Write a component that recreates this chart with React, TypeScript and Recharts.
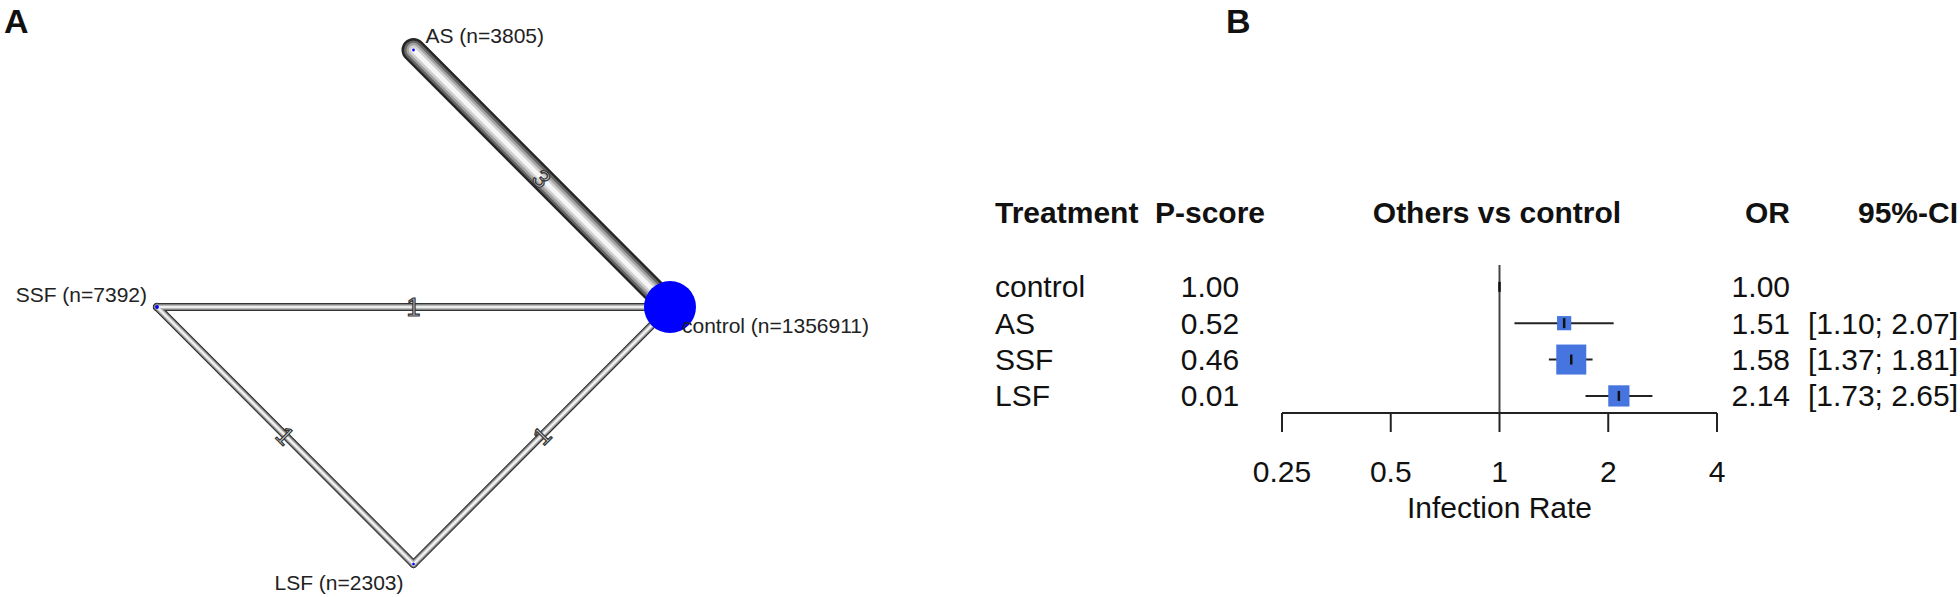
import React from "react";
import {
  ComposedChart,
  Line,
  Scatter,
  XAxis,
  YAxis,
  ZAxis,
  ErrorBar,
  ReferenceLine,
} from "recharts";

const FONT = '"Liberation Sans", Arial, Helvetica, sans-serif';

// network (circle layout)
const treatments = ["control", "AS", "SSF", "LSF"];
const sampleSizes = [1356911, 3805, 7392, 2303];
const layoutX = [1, 0, -1, 0];
const layoutY = [0, 1, 0, -1];
const edgeFrom = ["AS", "SSF", "SSF", "LSF"];
const edgeTo = ["control", "control", "LSF", "control"];
const edgeStudies = [3, 1, 1, 1];

// forest plot
const pScores = [1.0, 0.52, 0.46, 0.01];
const oddsRatios = [1.0, 1.51, 1.58, 2.14];
const ciLower = [null, 1.1, 1.37, 1.73];
const ciUpper = [null, 2.07, 1.81, 2.65];
const weights = [0, 13, 58, 29];
const xTicks = [0.25, 0.5, 1, 2, 4];
const rowTicks = [0, 1, 2, 3];

const nodes = treatments.map((name, i) => ({
  name,
  n: sampleSizes[i],
  x: layoutX[i],
  y: layoutY[i],
}));

const edges = edgeFrom.map((f, i) => {
  const a = nodes[treatments.indexOf(f)];
  const b = nodes[treatments.indexOf(edgeTo[i])];
  return { a, b, k: edgeStudies[i] };
});

const edgeLabels = edges.map((e) => ({
  x: (e.a.x + e.b.x) / 2,
  y: (e.a.y + e.b.y) / 2,
  k: e.k,
  angle: (Math.atan2(-(e.b.y - e.a.y), e.b.x - e.a.x) * 180) / Math.PI,
}));

const forestRows = treatments.map((name, i) => ({
  row: i,
  name,
  or: oddsRatios[i],
  w: weights[i],
  err:
    ciLower[i] == null
      ? [0, 0]
      : [oddsRatios[i] - (ciLower[i] as number), (ciUpper[i] as number) - oddsRatios[i]],
}));

// cylinder look for the edges: outer dark -> light centre
const SHADES = [
  { f: 1, c: "#252525" },
  { f: 0.8, c: "#666666" },
  { f: 0.6, c: "#a2a2a2" },
  { f: 0.4, c: "#d0d0d0" },
  { f: 0.2, c: "#f6f6f6" },
];

const LABEL_PLACE: Record<string, { dx: number; dy: number; anchor: string }> = {
  control: { dx: 12, dy: 19, anchor: "start" },
  AS: { dx: 12, dy: -14, anchor: "start" },
  SSF: { dx: -10, dy: -12, anchor: "end" },
  LSF: { dx: -10, dy: 19, anchor: "end" },
};

const NodeShape = (props: any) => {
  const { cx, cy, width, payload } = props;
  const r = Math.max((width || 0) / 2, 1.3);
  const p = LABEL_PLACE[payload.name];
  return (
    <g>
      <circle cx={cx} cy={cy} r={r} fill="#0000ff" />
      <text
        x={cx + p.dx}
        y={cy + p.dy}
        dy="0.35em"
        textAnchor={p.anchor}
        fontSize={21}
        fill="#222"
        fontFamily={FONT}
      >
        {`${payload.name} (n=${payload.n})`}
      </text>
    </g>
  );
};

const EdgeLabel = (props: any) => {
  const { cx, cy, payload } = props;
  return (
    <text
      x={cx}
      y={cy}
      dy="0.36em"
      textAnchor="middle"
      transform={`rotate(${payload.angle} ${cx} ${cy})`}
      fontSize={25}
      fontFamily={FONT}
      fill="#d8d8d8"
      stroke="#333"
      strokeWidth={1.2}
    >
      {payload.k}
    </text>
  );
};

const NetworkChart = () => (
  <ComposedChart
    width={980}
    height={597}
    margin={{ top: 50, right: 310, bottom: 33, left: 157 }}
  >
    <XAxis type="number" dataKey="x" domain={[-1, 1]} hide />
    <YAxis type="number" dataKey="y" domain={[-1, 1]} hide />
    <ZAxis dataKey="n" domain={[0, 1356911]} range={[0, 2124]} />
    {SHADES.map((s, j) =>
      edges.map((e, i) => (
        <Line
          key={`e${j}-${i}`}
          data={[e.a, e.b]}
          dataKey="y"
          type="linear"
          stroke={s.c}
          strokeWidth={8 * e.k * s.f}
          strokeLinecap="round"
          dot={false}
          activeDot={false}
          isAnimationActive={false}
        />
      ))
    )}
    <Scatter data={edgeLabels} shape={EdgeLabel} isAnimationActive={false} />
    <Scatter data={nodes} shape={NodeShape} isAnimationActive={false} />
  </ComposedChart>
);

// column positions, relative to the forest chart
const COL = { treat: 15, pscore: 230, forest: 517, or: 810, ci: 978 };

const RowTick = (props: any) => {
  const { y, payload, index } = props;
  const i = payload.value;
  const txt = { fontSize: 30, fill: "#111", fontFamily: FONT };
  const hy = y - 74;
  return (
    <g>
      {index === 0 && (
        <g fontWeight="bold">
          <text x={COL.treat} y={hy} dy="0.35em" {...txt}>Treatment</text>
          <text x={COL.pscore} y={hy} dy="0.35em" textAnchor="middle" {...txt}>P-score</text>
          <text x={COL.forest} y={hy} dy="0.35em" textAnchor="middle" {...txt}>Others vs control</text>
          <text x={COL.or} y={hy} dy="0.35em" textAnchor="end" {...txt}>OR</text>
          <text x={COL.ci} y={hy} dy="0.35em" textAnchor="end" {...txt}>95%-CI</text>
        </g>
      )}
      <text x={COL.treat} y={y} dy="0.35em" {...txt}>{treatments[i]}</text>
      <text x={COL.pscore} y={y} dy="0.35em" textAnchor="middle" {...txt}>
        {pScores[i].toFixed(2)}
      </text>
      <text x={COL.or} y={y} dy="0.35em" textAnchor="end" {...txt}>
        {oddsRatios[i].toFixed(2)}
      </text>
      {ciLower[i] != null && (
        <text x={COL.ci} y={y} dy="0.35em" textAnchor="end" {...txt}>
          {`[${(ciLower[i] as number).toFixed(2)}; ${(ciUpper[i] as number).toFixed(2)}]`}
        </text>
      )}
    </g>
  );
};

const SquareShape = (props: any) => {
  const { cx, cy, width } = props;
  const s = width || 0;
  if (s <= 0) return <g />;
  return <rect x={cx - s / 2} y={cy - s / 2} width={s} height={s} fill="#4775e0" />;
};

const EstimateTick = (props: any) => {
  const { cx, cy } = props;
  return <line x1={cx} x2={cx} y1={cy - 5} y2={cy + 5} stroke="#111" strokeWidth={2.5} />;
};

const ForestChart = () => (
  <ComposedChart
    width={980}
    height={597}
    margin={{ top: 265, right: 243, bottom: 84, left: 301 }}
  >
    <XAxis
      type="number"
      dataKey="or"
      scale="log"
      domain={[0.25, 4]}
      ticks={xTicks}
      interval={0}
      allowDataOverflow
      height={100}
      tickSize={19}
      tickMargin={29}
      axisLine={{ stroke: "#222", strokeWidth: 2 }}
      tickLine={{ stroke: "#222", strokeWidth: 2 }}
      tick={{ fontSize: 30, fill: "#111", fontFamily: FONT }}
      tickFormatter={(v: number) => String(v)}
      label={{
        value: "Infection Rate",
        position: "bottom",
        offset: -16,
        fontSize: 30,
        fill: "#111",
        fontFamily: FONT,
      }}
    />
    <YAxis
      type="number"
      dataKey="row"
      domain={[-0.6, 3.47]}
      reversed
      allowDataOverflow
      ticks={rowTicks}
      interval={0}
      width={1}
      axisLine={false}
      tickLine={false}
      tick={(p: any) => <RowTick {...p} />}
    />
    <ZAxis dataKey="w" domain={[0, 100]} range={[0, 1219]} />
    <ReferenceLine x={1} stroke="#444" strokeWidth={2} />
    <Scatter data={forestRows} shape={SquareShape} isAnimationActive={false} />
    <Scatter data={forestRows} shape={EstimateTick} isAnimationActive={false}>
      <ErrorBar dataKey="err" direction="x" width={0} stroke="#222" strokeWidth={2} />
    </Scatter>
  </ComposedChart>
);

const panelLabel: React.CSSProperties = {
  position: "absolute",
  top: 4,
  fontSize: 34,
  fontWeight: "bold",
  lineHeight: 1,
  fontFamily: '"Liberation Sans Narrow", "Liberation Sans", Arial, sans-serif',
  color: "#111",
};

export default function App() {
  return (
    <div
      style={{
        position: "absolute",
        left: 0,
        top: 0,
        width: 1960,
        height: 597,
        background: "#fff",
        overflow: "hidden",
      }}
    >
      <div style={{ position: "absolute", left: 0, top: 0 }}>
        <NetworkChart />
      </div>
      <div style={{ position: "absolute", left: 980, top: 0 }}>
        <ForestChart />
      </div>
      <div style={{ ...panelLabel, left: 4 }}>A</div>
      <div style={{ ...panelLabel, left: 1226 }}>B</div>
    </div>
  );
}
